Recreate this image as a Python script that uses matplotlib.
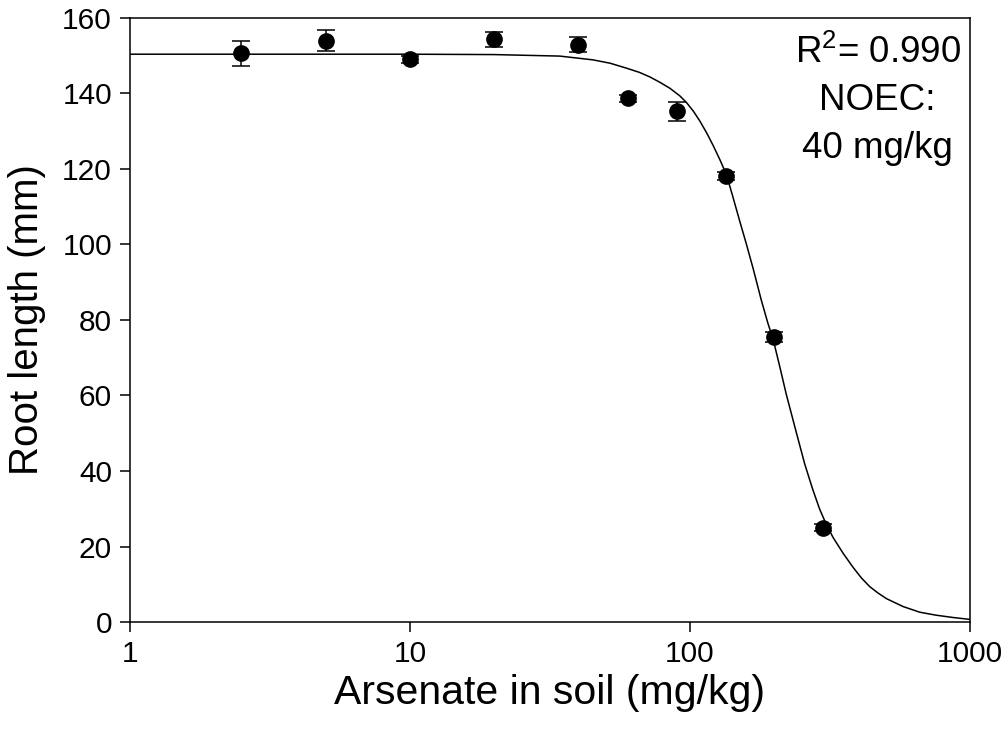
import numpy as np
import matplotlib
matplotlib.use("Agg")
import matplotlib.pyplot as plt
from matplotlib.ticker import FixedLocator, NullLocator, FixedFormatter

plt.rcParams['font.family'] = ['Liberation Sans', 'DejaVu Sans']
plt.rcParams['mathtext.fontset'] = 'custom'
plt.rcParams['mathtext.rm'] = 'Liberation Sans'
plt.rcParams['mathtext.it'] = 'Liberation Sans'

# measured root length vs arsenate dose
dose = [2.5, 5, 10, 20, 40, 60, 90, 135, 200, 300]
root_len = [150.7, 154.0, 149.0, 154.4, 152.9, 138.7, 135.3, 118.1, 75.6, 25.0]
root_err = [3.3, 2.7, 1.0, 2.0, 2.0, 1.0, 2.5, 1.0, 1.3, 1.0]

# fitted dose-response curve
fit_x = [1, 10, 20, 34.3, 45.1, 52, 59.4, 66, 71.9, 78, 84.8, 92, 97.3, 103,
         108.6, 115, 121.2, 128, 135.2, 142.8, 150.9, 159, 168.4, 180, 190,
         198.6, 210, 221, 240, 257.5, 275, 291, 308, 325, 353, 383, 410, 439,
         470, 504, 578, 663, 760, 872, 1000]
fit_y = [150.4, 150.4, 150.3, 149.9, 148.9, 148.0, 146.7, 145.6, 144.4, 143.0,
         141.4, 139.4, 137.6, 135.3, 132.7, 129.5, 126.2, 122.5, 118.5, 112.4,
         106.1, 100.3, 93.6, 85.3, 79.2, 74.8, 67.4, 60.4, 50.3, 41.8, 35.1, 29.9,
         25.7, 22.4, 18.2, 14.5, 11.7, 9.4, 7.7, 6.2, 4.1, 2.6, 1.8, 1.2, 0.7]

x_ticks = [1, 10, 100, 1000]
x_ticklabels = ['1', '10', '100', '1000']
y_ticks = [0, 20, 40, 60, 80, 100, 120, 140, 160]

fig = plt.figure(figsize=(10.08, 7.33), dpi=100)
ax = fig.add_axes([0.129, 0.1514, 0.833, 0.8241])

ax.plot(fit_x, fit_y, color='black', lw=1.1, zorder=2)
ax.errorbar(dose, root_len, yerr=root_err, fmt='o', color='black', ms=11,
            ecolor='black', elinewidth=1.1, capsize=6.5, capthick=1.1, zorder=3)

ax.set_xscale('log')
ax.set_xlim(1, 1000)
ax.set_ylim(0, 160)
ax.xaxis.set_major_locator(FixedLocator(x_ticks))
ax.xaxis.set_major_formatter(FixedFormatter(x_ticklabels))
ax.xaxis.set_minor_locator(NullLocator())
ax.set_yticks(y_ticks)

ax.tick_params(axis='both', direction='out', length=7, width=1.1,
               labelsize=21.5, pad=6, top=False, right=False)
for sp in ax.spines.values():
    sp.set_linewidth(1.1)

ax.set_xlabel('Arsenate in soil (mg/kg)', fontsize=29.5, labelpad=4)
ax.set_ylabel('Root length (mm)', fontsize=29, labelpad=12)

ax.text(469, 148.1, 'R$^2$= 0.990', fontsize=26.5, ha='center', va='baseline')
ax.text(469, 135.6, 'NOEC:', fontsize=26.5, ha='center', va='baseline')
ax.text(469, 123.0, '40 mg/kg', fontsize=26.5, ha='center', va='baseline')

fig.savefig('out.png', dpi=100)
